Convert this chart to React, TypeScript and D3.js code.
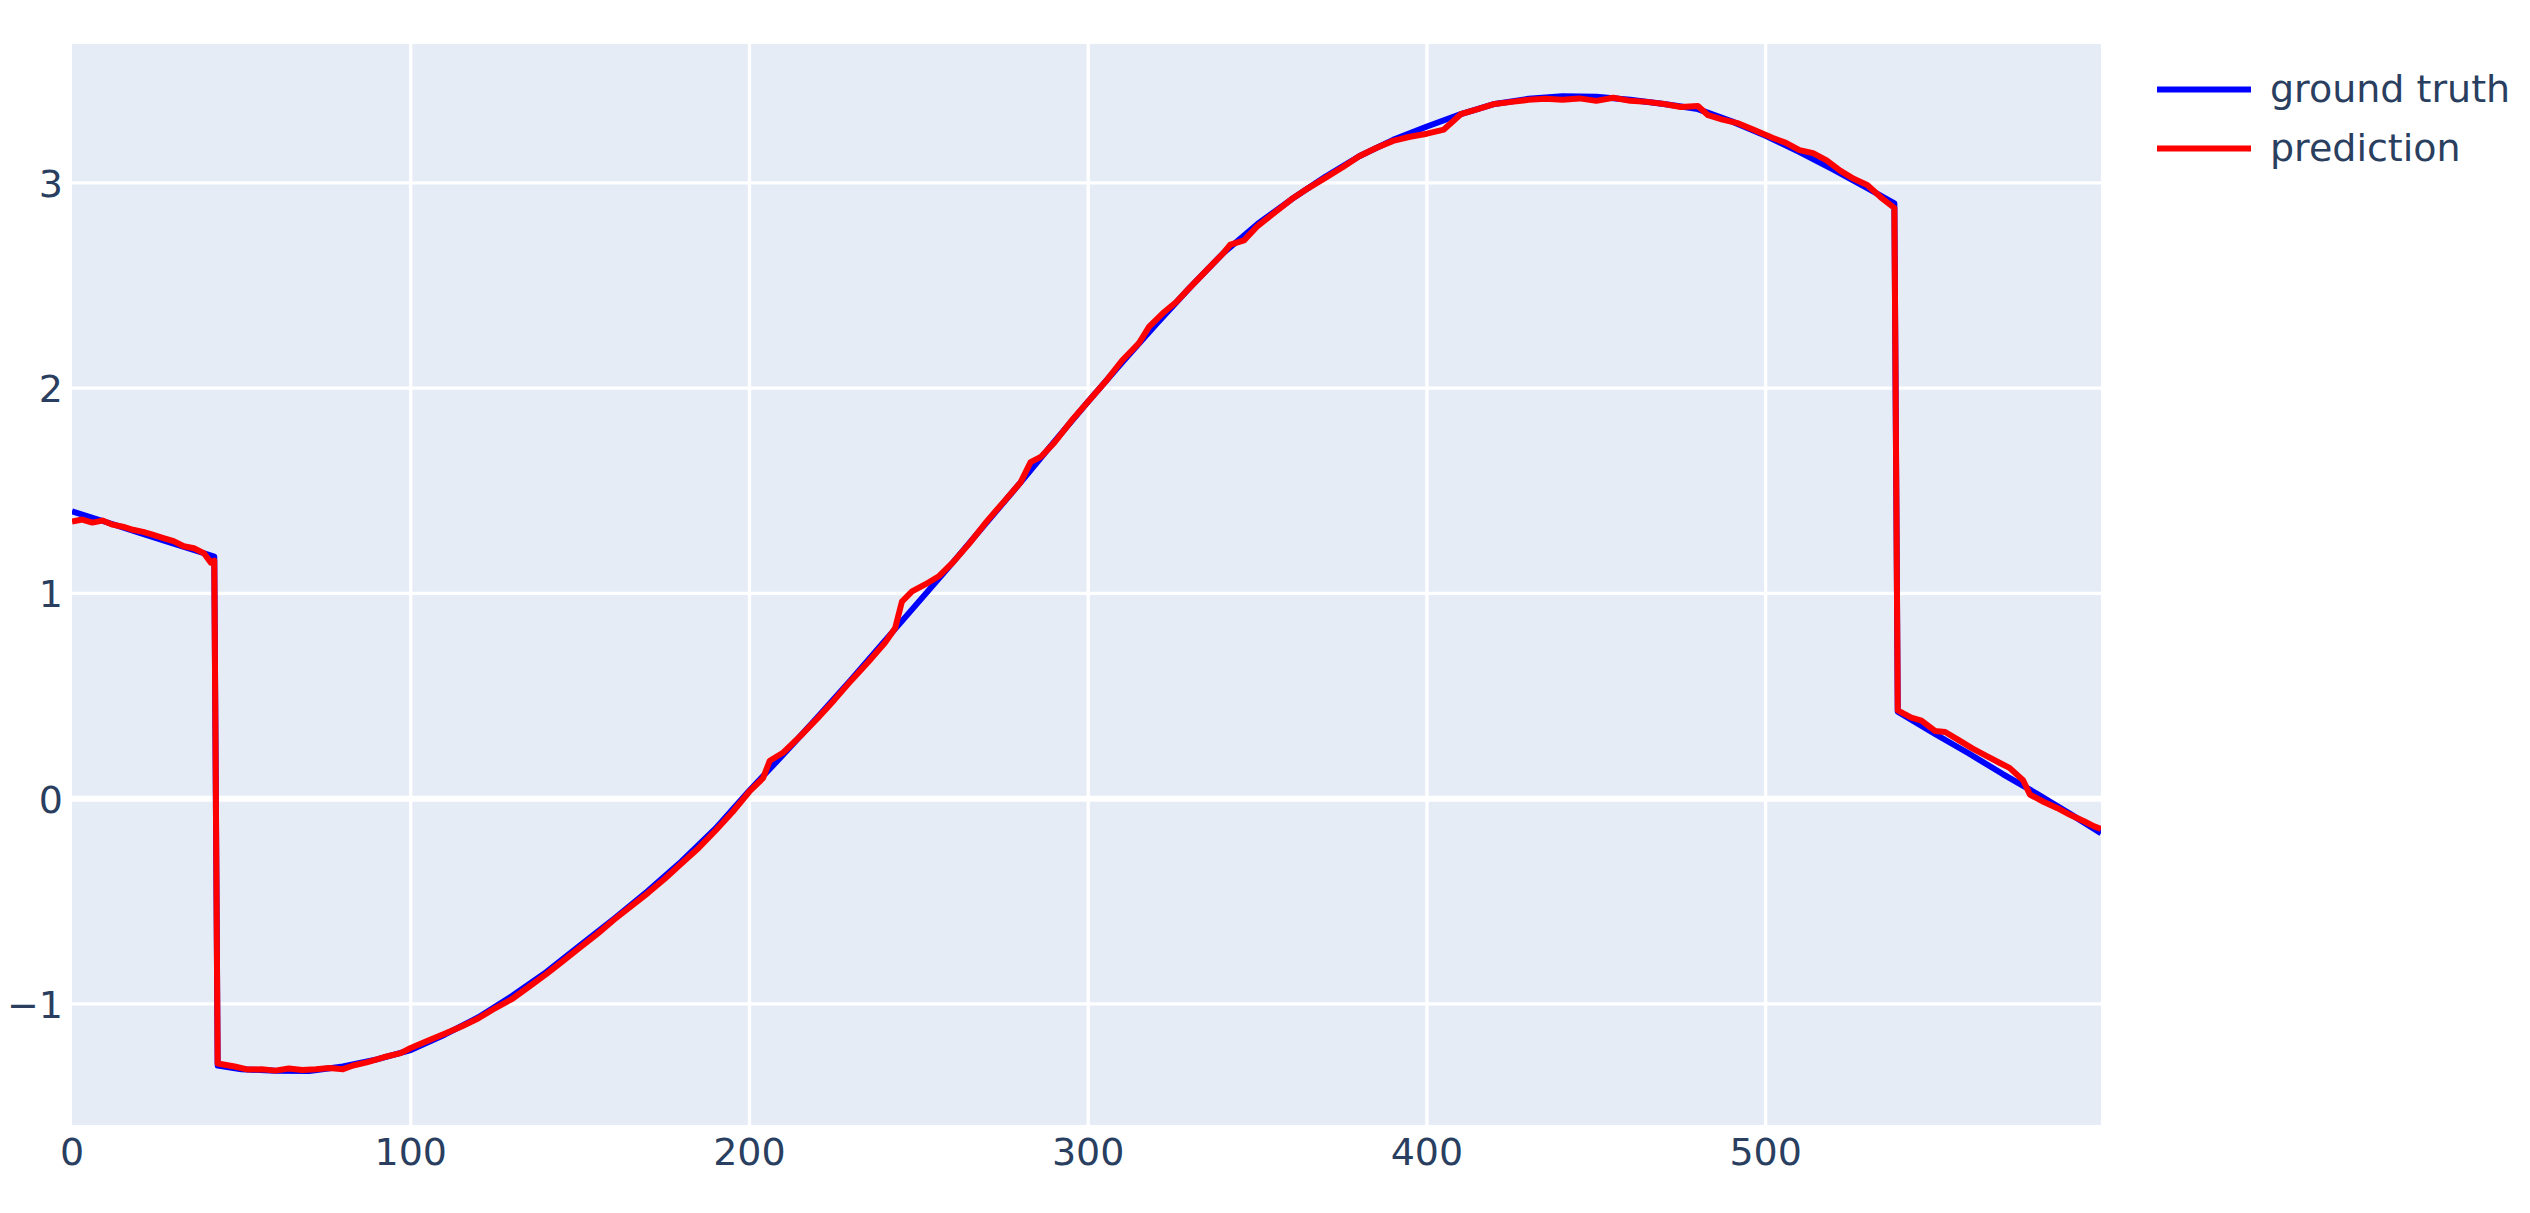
import React from 'react';
import * as d3 from 'd3';

// ---- data ----
const gtX = [0, 10, 20, 30, 42, 43, 50, 60, 70, 80, 90, 100, 110, 120, 130, 140, 150, 160, 170, 180, 190, 200, 210, 220, 230, 240, 250, 260, 270, 280, 290, 300, 310, 320, 330, 340, 350, 360, 370, 380, 390, 400, 410, 420, 430, 440, 450, 460, 470, 480, 490, 500, 510, 520, 530, 538, 539, 550, 560, 570, 580, 590, 599];
const gtY = [1.4, 1.348, 1.295, 1.243, 1.18, -1.3, -1.318, -1.326, -1.327, -1.305, -1.27, -1.225, -1.15, -1.065, -0.96, -0.845, -0.715, -0.585, -0.45, -0.305, -0.145, 0.04, 0.215, 0.395, 0.58, 0.77, 0.96, 1.15, 1.345, 1.54, 1.74, 1.935, 2.125, 2.31, 2.49, 2.66, 2.8, 2.92, 3.03, 3.13, 3.21, 3.275, 3.335, 3.385, 3.41, 3.422, 3.42, 3.405, 3.385, 3.36, 3.3, 3.23, 3.15, 3.065, 2.975, 2.9, 0.424, 0.315, 0.22, 0.12, 0.025, -0.075, -0.168];

const predX = [0, 3, 6, 9, 12, 15, 18, 21, 24, 27, 30, 33, 36, 39, 41, 42, 43, 48, 52, 56, 60, 64, 68, 72, 76, 80, 83, 87, 92, 97, 100, 105, 110, 115, 120, 125, 130, 135, 140, 145, 150, 155, 160, 165, 170, 175, 180, 185, 190, 195, 200, 204, 206, 210, 215, 220, 225, 230, 235, 240, 243, 245, 248, 252, 256, 260, 265, 270, 275, 280, 283, 286, 290, 295, 300, 305, 310, 315, 318, 322, 326, 330, 335, 340, 342, 346, 350, 355, 360, 365, 370, 375, 380, 385, 390, 395, 400, 405, 410, 415, 420, 425, 430, 435, 440, 445, 450, 455, 460, 465, 470, 475, 480, 483, 487, 492, 497, 502, 506, 510, 514, 518, 522, 526, 530, 534, 538, 539, 543, 546, 550, 553, 557, 561, 565, 569, 572, 576, 578, 582, 586, 590, 594, 597, 599];
const predY = [1.35, 1.36, 1.345, 1.355, 1.335, 1.325, 1.31, 1.3, 1.285, 1.27, 1.255, 1.23, 1.22, 1.195, 1.15, 1.16, -1.29, -1.305, -1.32, -1.318, -1.325, -1.315, -1.322, -1.318, -1.312, -1.318, -1.3, -1.285, -1.26, -1.24, -1.215, -1.18, -1.145, -1.11, -1.07, -1.02, -0.975, -0.915, -0.855, -0.79, -0.725, -0.66, -0.59, -0.525, -0.46, -0.39, -0.315, -0.24, -0.155, -0.065, 0.035, 0.1, 0.185, 0.225, 0.305, 0.39, 0.48, 0.575, 0.665, 0.76, 0.83, 0.96, 1.01, 1.045, 1.085, 1.15, 1.245, 1.35, 1.445, 1.54, 1.64, 1.665, 1.735, 1.84, 1.935, 2.03, 2.135, 2.22, 2.3, 2.365, 2.42, 2.49, 2.575, 2.66, 2.7, 2.72, 2.79, 2.855, 2.92, 2.975, 3.025, 3.075, 3.13, 3.17, 3.205, 3.225, 3.24, 3.26, 3.335, 3.36, 3.385, 3.395, 3.405, 3.41, 3.405, 3.412, 3.4, 3.415, 3.4, 3.395, 3.385, 3.37, 3.375, 3.33, 3.31, 3.29, 3.255, 3.22, 3.195, 3.16, 3.145, 3.11, 3.06, 3.02, 2.99, 2.93, 2.878, 0.43, 0.395, 0.38, 0.33, 0.325, 0.285, 0.245, 0.21, 0.175, 0.15, 0.09, 0.02, -0.015, -0.045, -0.08, -0.11, -0.135, -0.148];

const xTicks = [0, 100, 200, 300, 400, 500];
const yTicks = [-1, 0, 1, 2, 3];
const seriesNames = ['ground truth', 'prediction'];
const seriesColors = ['#0000ff', '#ff0000'];

const W = 2530;
const H = 1213;
const PL = 72, PR = 2101, PT = 44, PB = 1125;
const FONT = '"DejaVu Sans", Verdana, sans-serif';
const FS = 38;
const TXT = '#2a3f5f';

export default function App() {
  const x = d3.scaleLinear().domain([0, 599]).range([PL, PR]);
  const y = d3.scaleLinear().domain([-1.59, 3.677]).range([PB, PT]);

  const line = d3.line<[number, number]>().x(d => x(d[0])).y(d => y(d[1]));
  const gtPts = gtX.map((v, i) => [v, gtY[i]] as [number, number]);
  const prPts = predX.map((v, i) => [v, predY[i]] as [number, number]);
  const series = [gtPts, prPts];

  const fmt = (v: number) => (v < 0 ? '\u2212' + Math.abs(v) : String(v));

  return (
    <svg width={W} height={H} style={{ position: 'absolute', left: 0, top: 0, display: 'block', background: '#fff' }}>
      <defs>
        <clipPath id="plotclip">
          <rect x={PL} y={PT} width={PR - PL} height={PB - PT} />
        </clipPath>
      </defs>
      <rect x={PL} y={PT} width={PR - PL} height={PB - PT} fill="#E5ECF6" />
      {xTicks.filter(t => t !== 0).map(t => (
        <line key={'gx' + t} x1={x(t)} x2={x(t)} y1={PT} y2={PB} stroke="#fff" strokeWidth={3.3} />
      ))}
      {yTicks.map(t => (
        <line key={'gy' + t} x1={PL} x2={PR} y1={y(t)} y2={y(t)} stroke="#fff" strokeWidth={t === 0 ? 6 : 3.3} />
      ))}
      <g clipPath="url(#plotclip)">
        {series.map((pts, i) => (
          <path key={'s' + i} d={line(pts) || ''} fill="none" stroke={seriesColors[i]} strokeWidth={6} strokeLinejoin="round" />
        ))}
      </g>
      {xTicks.map(t => (
        <text key={'tx' + t} x={x(t)} y={PB + 40} textAnchor="middle" fontFamily={FONT} fontSize={FS} fill={TXT}>
          {fmt(t)}
        </text>
      ))}
      {yTicks.map(t => (
        <text key={'ty' + t} x={PL - 9} y={y(t) + 14} textAnchor="end" fontFamily={FONT} fontSize={FS} fill={TXT}>
          {fmt(t)}
        </text>
      ))}
      {seriesNames.map((n, i) => (
        <g key={'lg' + i}>
          <line x1={2157} x2={2251} y1={89.5 + i * 59} y2={89.5 + i * 59} stroke={seriesColors[i]} strokeWidth={6} />
          <text x={2270} y={102 + i * 59} fontFamily={FONT} fontSize={FS} fill={TXT}>
            {n}
          </text>
        </g>
      ))}
    </svg>
  );
}
